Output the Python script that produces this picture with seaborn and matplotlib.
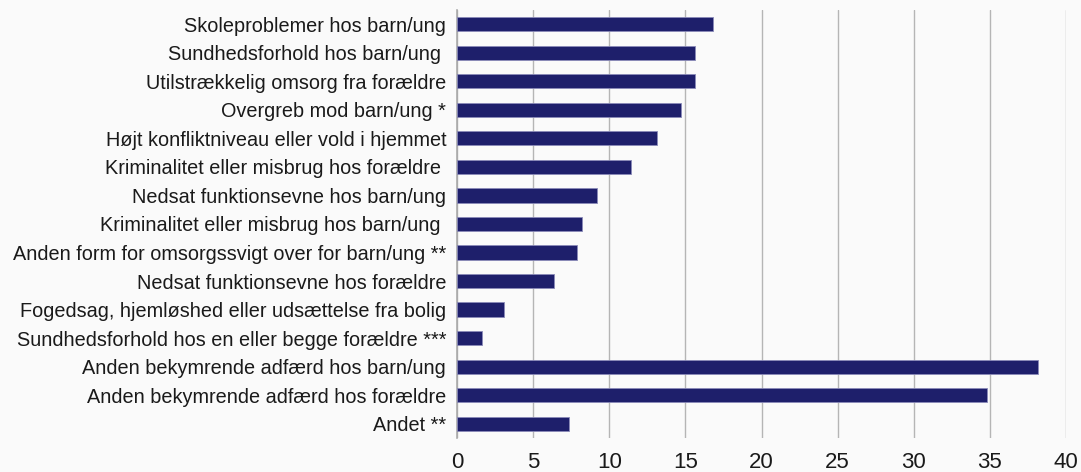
import numpy as np
import pandas as pd
import matplotlib
matplotlib.use("Agg")
import matplotlib.pyplot as plt
import seaborn as sns

categories = [
    "Skoleproblemer hos barn/ung",
    "Sundhedsforhold hos barn/ung ",
    "Utilstrækkelig omsorg fra forældre",
    "Overgreb mod barn/ung *",
    "Højt konfliktniveau eller vold i hjemmet",
    "Kriminalitet eller misbrug hos forældre ",
    "Nedsat funktionsevne hos barn/ung",
    "Kriminalitet eller misbrug hos barn/ung ",
    "Anden form for omsorgssvigt over for barn/ung **",
    "Nedsat funktionsevne hos forældre",
    "Fogedsag, hjemløshed eller udsættelse fra bolig",
    "Sundhedsforhold hos en eller begge forældre ***",
    "Anden bekymrende adfærd hos barn/ung",
    "Anden bekymrende adfærd hos forældre",
    "Andet **",
]
values = [16.8, 15.6, 15.6, 14.7, 13.1, 11.4, 9.2, 8.2, 7.85, 6.35, 3.05, 1.6, 38.2, 34.8, 7.35]
x_ticks = [0, 5, 10, 15, 20, 25, 30, 35, 40]

bg = "#fafafa"
bar_color = "#1e1f6b"

sns.set_theme(style="white")
plt.rcParams["font.family"] = ["Liberation Sans", "DejaVu Sans"]

df = pd.DataFrame({"category": categories, "value": values})

fig = plt.figure(figsize=(10.81, 4.72), dpi=100, facecolor=bg)
ax = fig.add_axes([0.423, 0.072, 0.563, 0.907])
ax.set_facecolor(bg)

sns.barplot(data=df, x="value", y="category", orient="h", color=bar_color,
            width=0.5, edgecolor="#8a8ab8", linewidth=0.6, saturation=1, ax=ax, zorder=3)

ax.set_xlim(0, 40)
ax.set_ylim(len(categories) - 0.5, -0.5)
ax.set_xticks(x_ticks)
ax.set_xticklabels([str(t) for t in x_ticks], fontsize=16, color="#1a1a1a")
ax.tick_params(axis="x", length=0, pad=10)
ax.tick_params(axis="y", which="major", length=0, labelsize=14.3, labelcolor="#1a1a1a", pad=8)
ax.set_yticks(np.arange(-0.5, len(categories), 1), minor=True)
ax.tick_params(axis="y", which="minor", length=5, color="#aaaaaa", width=1)
ax.xaxis.grid(True, color="#b5b5b5", linewidth=1, zorder=0)
ax.yaxis.grid(False)
for side in ["top", "right", "bottom"]:
    ax.spines[side].set_visible(False)
ax.spines["left"].set_color("#aaaaaa")
ax.spines["left"].set_linewidth(1.2)
ax.set_xlabel("")
ax.set_ylabel("")

fig.savefig("out.png", dpi=100, facecolor=bg)
